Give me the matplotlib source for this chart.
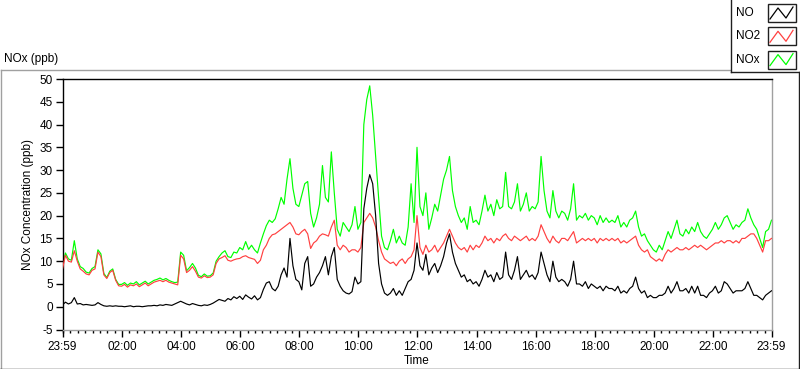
import numpy as np
import matplotlib
matplotlib.use("Agg")
import matplotlib.pyplot as plt
from matplotlib.lines import Line2D
from matplotlib.patches import Rectangle

plt.rcParams['font.family'] = ['Liberation Sans', 'DejaVu Sans']

# ---- data: minutes after 23:59, one reading every 6 minutes ----
minutes = np.arange(0, 1441, 6)

no2 = [
    8.3, 11.3, 10.0, 9.8, 12.3, 10.0, 8.3, 7.8, 7.2, 7.0,
    8.0, 8.3, 12.0, 11.0, 7.0, 6.2, 7.5, 8.0, 5.8, 4.6,
    4.5, 4.9, 4.3, 4.8, 4.6, 5.0, 4.4, 4.8, 5.2, 4.6,
    5.0, 5.4, 5.6, 5.8, 5.5, 5.8, 5.4, 5.2, 5.0, 4.8,
    11.3, 10.5, 7.5, 8.0, 8.8, 7.8, 6.5, 6.3, 6.8, 6.4,
    6.5, 7.0, 9.5, 10.5, 10.8, 11.2, 10.2, 10.0, 10.3, 10.5,
    10.6, 11.0, 11.2, 10.8, 10.6, 10.4, 9.5, 10.2, 12.5, 13.5,
    15.0, 15.8, 16.0, 16.5, 17.0, 17.5, 18.0, 18.5, 17.5, 16.0,
    15.8, 16.5, 17.0, 16.0, 12.8, 14.0, 14.5, 15.5, 16.0, 15.8,
    15.5, 17.5, 19.0, 13.5, 12.5, 13.5, 13.0, 12.0, 12.5, 12.5,
    12.0, 13.0, 18.5, 19.5, 20.5, 19.5, 17.5, 14.5, 12.0, 10.5,
    10.0, 9.5, 9.8, 9.0, 10.0, 10.5, 9.5, 10.5, 11.0, 12.5,
    20.0, 13.0, 11.5, 13.5, 12.0, 12.5, 13.5, 12.0, 13.0, 14.0,
    15.5, 17.0, 15.5, 14.0, 13.0, 12.5, 13.0, 12.0, 13.5, 12.5,
    13.5, 13.0, 14.0, 15.5, 14.5, 15.0, 14.0, 15.0, 14.5, 15.5,
    16.0, 15.0, 14.5, 15.5, 15.0, 14.5, 15.0, 15.5, 14.5, 15.0,
    14.5, 15.5, 18.0, 16.5, 15.0, 14.0, 15.5, 14.5, 14.0, 15.0,
    15.0, 14.5, 15.5, 16.5, 14.0, 14.5, 15.0, 14.5, 15.0, 14.5,
    15.0, 14.0, 15.0, 14.5, 15.0, 14.5, 15.0, 14.5, 15.0, 14.0,
    14.5, 14.0, 14.5, 15.0, 15.5, 13.5, 12.5, 12.0, 12.5, 11.0,
    10.5, 10.0, 10.5, 10.0, 11.5, 12.5, 12.0, 12.5, 13.0, 12.5,
    12.5, 13.0, 12.5, 13.0, 13.5, 13.0, 13.5, 13.0, 12.5, 13.0,
    13.5, 14.0, 14.0, 14.5, 14.0, 14.5, 14.5, 14.0, 14.5, 14.0,
    15.0, 15.0, 15.5, 16.0, 16.0, 15.0, 13.5, 12.0, 14.5, 14.5,
    15.0,
]

nox = [
    8.8, 11.8, 10.5, 10.2, 14.5, 10.5, 8.8, 8.4, 7.6, 7.4,
    8.4, 8.8, 12.5, 11.6, 7.3, 6.4, 7.8, 8.3, 6.0, 4.9,
    4.9, 5.3, 4.7, 5.2, 5.0, 5.5, 4.8, 5.2, 5.6, 5.0,
    5.4, 5.8, 6.0, 6.3, 5.9, 6.2, 5.8, 5.5, 5.3, 5.4,
    12.0, 11.3, 7.9, 8.6, 9.5, 8.5, 6.9, 6.6, 7.2, 6.7,
    6.8, 7.4, 10.0, 11.0, 11.8, 12.3, 11.0, 10.8, 12.0, 11.8,
    13.0, 12.5, 14.3, 12.6, 13.5, 12.5, 11.8, 14.0, 16.0, 17.8,
    19.0, 18.5, 19.3, 21.5, 24.0, 22.5, 28.0, 32.5, 26.0, 22.5,
    22.0, 24.5, 27.0, 27.5, 20.5, 17.5, 19.5, 22.5, 31.0, 24.0,
    23.0, 34.0, 25.0, 17.0, 15.5, 18.5, 17.5, 16.5, 18.0, 22.0,
    17.0, 18.5, 40.0, 45.5, 48.5, 42.0, 33.0, 24.0, 15.5, 13.0,
    12.5, 14.5, 17.0, 14.0, 15.5, 14.0, 13.5, 17.5, 27.0, 18.5,
    35.0, 22.0, 20.0, 25.0, 17.0, 19.5, 22.5, 21.0, 24.5, 28.0,
    30.0, 33.0, 25.5, 22.0, 20.0, 18.5, 19.5, 17.0, 22.0, 18.5,
    19.0, 18.0, 21.0, 24.5, 21.0, 22.5, 20.0, 23.5, 21.5, 22.0,
    29.5, 22.0, 21.5, 23.0, 27.0, 21.0, 22.5, 25.0, 21.0, 22.0,
    21.5, 23.0, 33.0, 25.5, 21.0, 19.5, 25.5, 21.0, 19.5, 21.0,
    20.5, 19.0, 21.5, 27.0, 19.0, 20.0, 19.5, 20.5, 19.0, 20.0,
    19.5, 18.0, 20.0, 18.5, 19.5, 18.5, 19.0, 18.5, 20.0, 17.5,
    18.5, 17.5, 19.0, 19.5, 21.0, 17.5, 15.5, 16.0, 14.5, 13.5,
    12.5, 12.0, 13.5, 12.5, 14.5, 16.5, 15.0, 17.0, 19.0, 16.0,
    15.5, 17.0, 16.0, 17.5, 16.5, 18.5, 16.5, 15.5, 15.0, 16.0,
    17.0, 18.5, 17.0, 18.0, 19.5, 20.0, 18.5, 17.0, 18.0, 17.5,
    18.5, 19.0, 21.5, 19.5, 18.0, 17.0, 15.0, 13.0, 16.5, 17.0,
    19.0,
]

no = [
    0.4, 1.0, 0.6, 0.9, 2.0, 0.6, 0.7, 0.4, 0.5, 0.4,
    0.3, 0.4, 0.9, 0.5, 0.2, 0.1, 0.2, 0.1, 0.2, 0.1,
    0.1, 0.0, 0.1, 0.2, 0.0, 0.1, 0.1, 0.0, 0.1, 0.2,
    0.2, 0.3, 0.2, 0.4, 0.3, 0.5, 0.4, 0.3, 0.6, 0.9,
    1.2, 0.9, 0.6, 0.4, 0.7, 0.5, 0.3, 0.2, 0.4, 0.3,
    0.5, 0.8, 1.2, 1.6, 1.4, 1.2, 1.8, 1.5, 2.2, 1.8,
    2.3, 1.6, 2.6, 2.1, 1.7, 2.4, 1.5, 2.0, 3.8, 5.2,
    5.5, 4.0, 3.5, 4.5, 7.0, 8.5, 6.5, 15.0, 9.0, 6.0,
    5.5, 3.7, 9.5, 11.0, 4.5, 5.0, 6.5, 7.5, 9.0, 11.0,
    7.0, 11.0, 13.0, 6.0, 4.5, 3.5, 3.0, 2.8, 3.3, 6.5,
    5.0, 5.5, 21.5, 26.0, 29.0, 27.0, 20.0, 9.5, 5.0, 3.0,
    2.5, 3.0, 4.0, 2.5, 3.5, 2.5, 4.0, 5.5, 6.0, 8.0,
    14.0, 9.0, 8.0, 11.5, 7.0, 8.5, 9.5, 7.5, 9.0, 11.0,
    14.0, 16.0, 12.0, 9.5, 8.0, 6.5, 7.0, 5.5, 6.0, 5.0,
    5.5, 4.5, 6.0, 8.0, 6.5, 7.0, 5.5, 7.5, 6.0, 6.5,
    12.0, 7.0, 6.0, 8.0, 11.0, 6.0, 7.0, 8.0, 6.5, 7.0,
    6.0, 7.5, 12.0, 9.5, 7.0, 5.5, 10.0, 6.5, 5.5, 6.0,
    5.5, 4.5, 6.0, 10.0, 5.0, 5.0, 4.5, 5.5, 4.0, 5.0,
    4.5, 4.0, 4.5, 3.5, 4.5, 4.0, 4.0, 3.5, 4.5, 3.0,
    3.5, 3.0, 4.0, 4.5, 6.5, 4.0, 3.0, 3.5, 2.0, 2.5,
    2.0, 2.0, 2.5, 2.5, 3.0, 4.5, 3.0, 4.0, 5.5, 3.5,
    3.5, 4.0, 3.0, 4.5, 3.0, 4.5, 2.5, 2.5, 2.0, 3.0,
    3.5, 4.5, 3.0, 3.5, 5.5, 5.0, 4.0, 3.0, 3.5, 3.5,
    3.5, 4.0, 5.5, 4.0, 2.5, 2.5, 2.0, 1.5, 2.5, 3.0,
    3.5,
]

tick_minutes = [0, 121, 241, 361, 481, 601, 721, 841, 961, 1081, 1201, 1321, 1440]
tick_labels = ['23:59', '02:00', '04:00', '06:00', '08:00', '10:00', '12:00',
               '14:00', '16:00', '18:00', '20:00', '22:00', '23:59']
y_ticks = list(range(-5, 51, 5))

series_names = ['NO', 'NO2', 'NOx']
series_colors = ['#000000', '#ff4040', '#00ff00']

# ---- figure ----
W, H = 800, 369
fig = plt.figure(figsize=(W / 100, H / 100), dpi=100)
fig.patch.set_facecolor('white')

ax = fig.add_axes([62.5 / W, 1 - 329.5 / H, 709 / W, 250.5 / H])
ax.plot(minutes, nox, color=series_colors[2], lw=0.85, zorder=2)
ax.plot(minutes, no2, color=series_colors[1], lw=0.85, zorder=3)
ax.plot(minutes, no, color=series_colors[0], lw=0.85, zorder=4)

ax.set_xlim(0, 1440)
ax.set_ylim(-5, 50)
ax.set_yticks(y_ticks)
ax.set_yticklabels([str(v) for v in y_ticks])
ax.set_xticks(tick_minutes)
ax.set_xticklabels(tick_labels)
ax.set_xticks(np.arange(1, 1440, 15), minor=True)

for s in ['left', 'top']:
    ax.spines[s].set_color('black')
    ax.spines[s].set_linewidth(1.0)
for s in ['right', 'bottom']:
    ax.spines[s].set_color('#a0a0a0')
    ax.spines[s].set_linewidth(1.0)

ax.tick_params(axis='y', direction='out', length=5, width=1, pad=2, labelsize=8.5, colors='black')
ax.tick_params(axis='x', which='major', direction='out', length=5, width=1, pad=3, labelsize=8.5)
ax.tick_params(axis='x', which='minor', direction='out', length=2.5, width=1)

ax.set_ylabel('NOx Concentration (ppb)', fontsize=8.5, labelpad=4)
ax.set_xlabel('Time', fontsize=8.5, labelpad=2)

fig.text(4 / W, 1 - 59 / H, 'NOx (ppb)', fontsize=8.5, va='center', ha='left')

# outer panel border
def fline(x0, y0, x1, y1, color):
    fig.add_artist(Line2D([x0 / W, x1 / W], [1 - y0 / H, 1 - y1 / H],
                          color=color, lw=1.0, transform=fig.transFigure))

fline(0.5, 69.5, 730, 69.5, '#a0a0a0')
fline(0.5, 69.5, 0.5, 368.5, '#a0a0a0')
fline(0, 368.5, 800, 368.5, '#202020')
fline(798.5, 71.5, 798.5, 369, '#202020')

# legend panel
fline(730.5, 0, 730.5, 71.5, '#202020')
fline(730.5, 71.5, 800, 71.5, '#202020')
for i, (name, col) in enumerate(zip(series_names, series_colors)):
    yc = 13 + i * 23.3
    fig.text(736 / W, 1 - yc / H, name, fontsize=8.5, va='center', ha='left')
    bx0, by0 = 767.5, yc - 9
    fig.add_artist(Rectangle((bx0 / W, 1 - (by0 + 18) / H), 28 / W, 18 / H,
                             transform=fig.transFigure, facecolor='white',
                             edgecolor='#202020', lw=1.0))
    zx = np.array([770, 778, 786, 793])
    zy = np.array([yc + 6, yc - 5, yc + 5, yc - 6])
    fig.add_artist(Line2D(zx / W, 1 - zy / H, color=col, lw=0.9,
                          transform=fig.transFigure))

fig.savefig('out.png', dpi=100, facecolor='white')
